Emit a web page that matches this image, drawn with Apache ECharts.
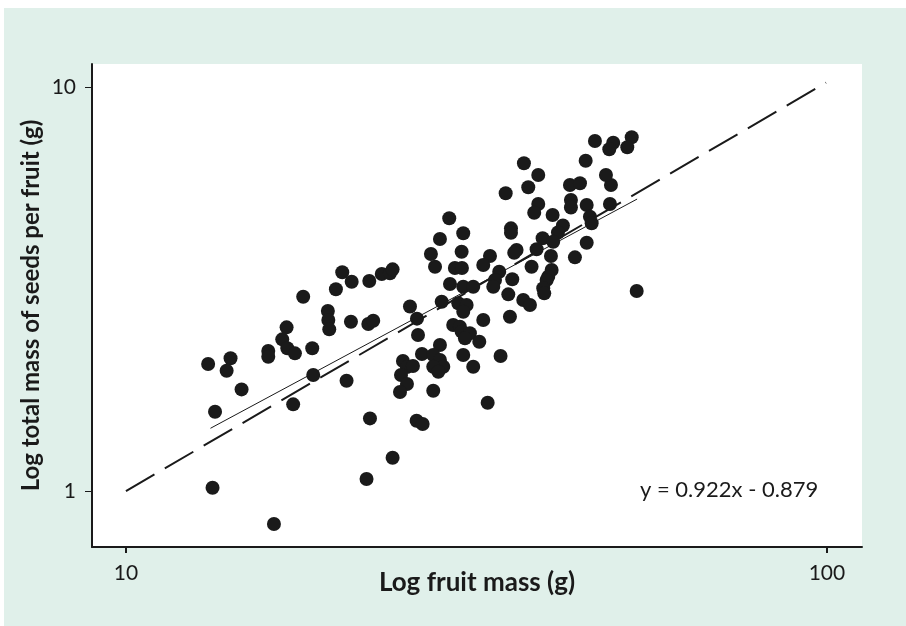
<!DOCTYPE html>
<html>
<head>
<meta charset="utf-8">
<script src="https://cdn.jsdelivr.net/npm/echarts@6/dist/echarts.min.js"></script>
<style>html,body{margin:0;padding:0;background:#fff;}#chart{width:906px;height:626px;}</style>
</head>
<body>
<div id="chart"></div>
<script>
// Fruit mass (g) per fruit
const fruitMass = [13.10,14.10,13.92,14.62,13.40,17.90,20.35,20.99,19.93,22.24,23.17,23.80,24.01,19.41,19.44,19.50,20.94,22.17,22.53,16.95,16.71,16.99,17.42,15.96,15.96,18.44,18.50,20.64,17.32,25.42,26.01,26.10,24.84,25.17,25.67,24.68,25.17,24.60,26.44,22.29,25.98,26.50,27.23,
34.81,37.49,38.74,42.99,44.43,49.19,38.74,38.23,43.13,43.13,45.42,49.03,40.61,45.91,46.17,28.92,35.42,35.42,42.01,41.33,30.28,28.05,39.30,38.53,40.69,40.39,45.42,36.08,35.80,43.70,27.60,30.12,33.06,32.34,37.90,29.46,30.15,40.48,40.03,39.82,39.38,39.51,34.08,33.61,33.42,35.57,28.99,30.28,31.29,35.11,28.21,29.79,30.62,30.28,36.88,37.70,35.30,32.34,53.53,29.30,29.95,30.12,30.95,30.45,31.92,28.05,27.44,28.05,28.36,27.44,27.90,30.28,31.29,34.23,27.44,32.81,
46.67,49.56,48.92,52.66,51.90,45.27,48.39,36.96,
13.29,16.26,22.04,24.01];
// Total mass of seeds per fruit (g)
const seedMass = [2.063,2.131,1.985,1.785,1.571,3.027,3.478,3.297,3.157,3.310,3.444,3.458,3.537,2.790,2.650,2.513,2.625,2.591,2.640,2.542,2.374,2.256,2.192,2.221,2.150,2.256,1.937,1.875,1.639,2.862,2.671,2.433,2.098,2.027,2.039,1.937,1.840,1.758,2.183,1.513,1.493,1.465,3.861,
5.456,5.646,6.057,5.721,5.776,5.721,5.133,4.885,5.252,5.031,5.104,5.133,4.822,4.775,4.599,4.732,4.469,4.358,4.542,4.364,4.344,4.205,4.222,3.966,4.141,3.817,4.117,3.950,3.890,3.788,3.591,3.911,3.817,3.626,3.591,3.565,3.565,3.524,3.393,3.330,3.175,3.085,3.490,3.330,3.204,3.342,3.253,3.204,3.204,3.068,2.942,2.915,2.887,2.779,2.970,2.887,2.701,2.650,3.126,2.576,2.551,2.480,2.457,2.388,2.342,2.298,2.171,2.110,2.031,2.031,1.974,2.171,2.031,2.159,1.771,1.654,
7.350,7.279,7.011,7.507,7.091,6.571,6.057,6.475,
1.019,0.829,1.071,1.209];
// Fitted regression line (solid) endpoints
const fitLineX = [13.2, 53.6];
const fitLineY = [1.43, 5.28];
// Long-dashed reference line endpoints
const refLineX = [10, 99.7];
const refLineY = [1, 10.25];
// Tick values
const xTicks = [10, 100];
const yTicks = [1, 10];
const equationText = 'y = 0.922x - 0.879';
const xName = 'Log fruit mass (g)';
const yName = 'Log total mass of seeds per fruit (g)';

const points = fruitMass.map((x, i) => [x, seedMass[i]]);
const fitLine = fitLineX.map((x, i) => [x, fitLineY[i]]);
const refLine = refLineX.map((x, i) => [x, refLineY[i]]);

const FONT = 'Lato';
const chart = echarts.init(document.getElementById('chart'), null, {renderer: 'canvas'});
chart.setOption({
  backgroundColor: '#ffffff',
  animation: false,
  graphic: [
    {type: 'rect', z: -10, silent: true, shape: {x: 4, y: 8, width: 902, height: 618}, style: {fill: '#e0f0ea'}},
    {type: 'text', left: 640, top: 479, z: 50, style: {text: equationText, font: '22px Lato', fill: '#1a1a1a'}}
  ],
  grid: {left: 92, right: 44, top: 64, bottom: 79, show: true, backgroundColor: '#ffffff', borderWidth: 0},
  xAxis: {
    type: 'log', logBase: 10, min: 8.945, max: 112.2,
    name: xName, nameLocation: 'middle', nameGap: 23, nameMoveOverlap: false,
    nameTextStyle: {fontFamily: FONT, fontWeight: 'bold', fontSize: 26, color: '#1a1a1a'},
    axisLine: {show: true, onZero: false, lineStyle: {color: '#1a1a1a', width: 2}},
    axisTick: {show: true, length: 6, customValues: xTicks, lineStyle: {color: '#1a1a1a', width: 2}},
    axisLabel: {show: true, margin: 16, customValues: xTicks, fontFamily: FONT, fontSize: 21, color: '#1a1a1a'},
    splitLine: {show: false}, minorTick: {show: false}
  },
  yAxis: {
    type: 'log', logBase: 10, min: 0.727, max: 11.4,
    name: yName, nameLocation: 'middle', nameGap: 49, nameMoveOverlap: false,
    nameTextStyle: {fontFamily: FONT, fontWeight: 'bold', fontSize: 24, color: '#1a1a1a'},
    axisLine: {show: true, onZero: false, lineStyle: {color: '#1a1a1a', width: 2}},
    axisTick: {show: true, length: 7, customValues: yTicks, lineStyle: {color: '#1a1a1a', width: 1}},
    axisLabel: {show: true, margin: 16, customValues: yTicks, fontFamily: FONT, fontSize: 21, color: '#1a1a1a'},
    splitLine: {show: false}, minorTick: {show: false}
  },
  series: [
    {type: 'line', data: refLine, symbol: 'none', z: 3,
     lineStyle: {color: '#1a1a1a', width: 2, type: [33, 12]}},
    {type: 'line', data: fitLine, symbol: 'none', z: 3,
     lineStyle: {color: '#1a1a1a', width: 1, type: 'solid'}},
    {type: 'scatter', data: points, symbol: 'circle', symbolSize: 14, z: 4,
     itemStyle: {color: '#1a1a1a', opacity: 1}}
  ]
});
</script>
</body>
</html>
